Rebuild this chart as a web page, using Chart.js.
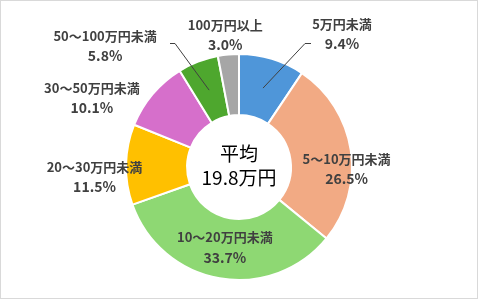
<!DOCTYPE html>
<html>
<head>
<meta charset="utf-8">
<script src="https://cdn.jsdelivr.net/npm/chart.js@4/dist/chart.umd.min.js"></script>
<style>
  html, body { margin: 0; padding: 0; background: #fff; }
  canvas { display: block; }
</style>
</head>
<body>
<canvas id="chart" width="478" height="299"></canvas>
<script>
var labels = ["5万円未満", "5～10万円未満", "10～20万円未満", "20～30万円未満", "30～50万円未満", "50～100万円未満", "100万円以上"];
var values = [9.4, 26.5, 33.7, 11.5, 10.1, 5.8, 3.0];
var colors = ["#4f96d9", "#f2aa84", "#8ed873", "#ffc000", "#d66fcb", "#4ea72e", "#a6a6a6"];
var centerText = ["平均", "19.8万円"];

// label placement relative to each slice's centroid (dx, dy) and leader lines
var labelShift = [[79, -54], [26, 14], [0, -1], [-62, 12], [-84, -16], [-104, -44], [-6, -50]];
var leader = [[305, 43, 311], null, null, null, null, [175, 43, 170], null];

var labelPlugin = {
  id: "labels",
  beforeDraw: function (chart) {
    var c = chart.ctx;
    c.save();
    c.fillStyle = "#fff";
    c.fillRect(0, 0, chart.width, chart.height);
    c.strokeStyle = "#d9d9d9";
    c.lineWidth = 1;
    c.strokeRect(0.5, 0.5, chart.width - 1, chart.height - 1);
    c.restore();
  },
  afterDatasetsDraw: function (chart) {
    var c = chart.ctx;
    var arcs = chart.getDatasetMeta(0).data;
    c.save();
    arcs.forEach(function (a, i) {
      var mid = (a.startAngle + a.endAngle) / 2;
      var r = (a.innerRadius + a.outerRadius) / 2;
      var px = a.x + Math.cos(mid) * r;
      var py = a.y + Math.sin(mid) * r;
      var lx = px + labelShift[i][0];
      var ly = py + labelShift[i][1];
      if (leader[i]) {
        c.strokeStyle = "#404040";
        c.lineWidth = 1;
        c.beginPath();
        c.moveTo(px, py);
        c.lineTo(leader[i][0], leader[i][1] + 0.5);
        c.lineTo(leader[i][2], leader[i][1] + 0.5);
        c.stroke();
      }
      c.fillStyle = "#404040";
      c.textAlign = "center";
      c.textBaseline = "middle";
      c.font = "bold 13px 'Noto Sans CJK JP'";
      c.fillText(labels[i], lx, ly - 10);
      c.font = "bold 14px 'Noto Sans CJK JP'";
      c.fillText(values[i].toFixed(1) + "%", lx, ly + 10);
    });
    var a0 = arcs[0];
    c.fillStyle = "#000";
    c.font = "19px 'Noto Sans CJK JP'";
    c.fillText(centerText[0], a0.x, a0.y - 13);
    c.fillText(centerText[1], a0.x, a0.y + 11);
    c.restore();
  }
};

new Chart(document.getElementById("chart").getContext("2d"), {
  type: "doughnut",
  data: {
    labels: labels,
    datasets: [{
      data: values,
      backgroundColor: colors,
      borderColor: "#fff",
      borderWidth: 2
    }]
  },
  options: {
    responsive: false,
    animation: false,
    cutout: "46%",
    layout: { padding: { top: 53, bottom: 18, left: 0, right: 0 } },
    plugins: {
      legend: { display: false },
      tooltip: { enabled: false }
    }
  },
  plugins: [labelPlugin]
});
</script>
</body>
</html>
